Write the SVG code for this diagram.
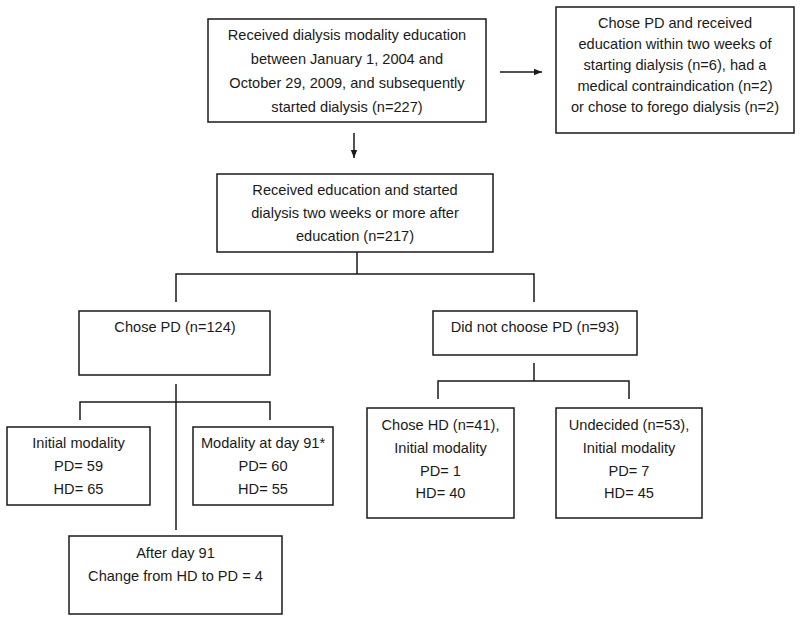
<svg xmlns="http://www.w3.org/2000/svg" width="800" height="621" viewBox="0 0 800 621">
<defs>
<style>
.box{fill:#fff;stroke:#1a1a1a;stroke-width:1.5}
.ln{fill:none;stroke:#1a1a1a;stroke-width:1.5}
text{font-family:"Liberation Sans",Arial,sans-serif;font-size:14.6px;fill:#1a1a1a;text-anchor:middle}
</style>
<marker id="ah" viewBox="0 0 10 10" refX="10" refY="5" markerWidth="8" markerHeight="8" markerUnits="userSpaceOnUse" orient="auto">
<path d="M0,1 L10,5 L0,9 Z" fill="#1a1a1a"/>
</marker>
</defs>
<rect width="800" height="621" fill="#fff"/>
<g id="connectors">
<line class="ln" x1="500" y1="72" x2="542" y2="72" marker-end="url(#ah)"/>
<line class="ln" x1="354" y1="133" x2="354" y2="158" marker-end="url(#ah)"/>
<polyline class="ln" points="357,252 357,274"/>
<polyline class="ln" points="176,302 176,274 534,274 534,302"/>
<polyline class="ln" points="176,384 176,530"/>
<polyline class="ln" points="80,420 80,402 270,402 270,420"/>
<polyline class="ln" points="534,363 534,381"/>
<polyline class="ln" points="438,399 438,381 629,381 629,399"/>
</g>
<g id="n1">
<rect class="box" x="208" y="19" width="278" height="103"/>
<text x="347" y="40">Received dialysis modality education</text>
<text x="347" y="64">between January 1, 2004 and</text>
<text x="347" y="88">October 29, 2009, and subsequently</text>
<text x="347" y="112">started dialysis (n=227)</text>
</g>
<g id="n2">
<rect class="box" x="556" y="7" width="238" height="126"/>
<text x="675" y="28">Chose PD and received</text>
<text x="675" y="49">education within two weeks of</text>
<text x="675" y="70">starting dialysis (n=6), had a</text>
<text x="675" y="91">medical contraindication (n=2)</text>
<text x="675" y="112">or chose to forego dialysis (n=2)</text>
</g>
<g id="n3">
<rect class="box" x="217" y="174" width="276" height="78"/>
<text x="355" y="195">Received education and started</text>
<text x="355" y="218">dialysis two weeks or more after</text>
<text x="355" y="241">education (n=217)</text>
</g>
<g id="n4">
<rect class="box" x="79" y="311" width="191" height="64"/>
<text x="175" y="332">Chose PD (n=124)</text>
</g>
<g id="n5">
<rect class="box" x="433" y="311" width="204" height="44"/>
<text x="535" y="332">Did not choose PD (n=93)</text>
</g>
<g id="n6">
<rect class="box" x="7" y="427" width="143" height="78"/>
<text x="78.5" y="448">Initial modality</text>
<text x="78.5" y="471">PD= 59</text>
<text x="78.5" y="494">HD= 65</text>
</g>
<g id="n7">
<rect class="box" x="193" y="427" width="140" height="78"/>
<text x="263" y="448">Modality at day 91*</text>
<text x="263" y="471">PD= 60</text>
<text x="263" y="494">HD= 55</text>
</g>
<g id="n8">
<rect class="box" x="69" y="536" width="213" height="78"/>
<text x="175.5" y="558">After day 91</text>
<text x="175.5" y="581">Change from HD to PD = 4</text>
</g>
<g id="n9">
<rect class="box" x="367" y="408" width="147" height="110"/>
<text x="440.5" y="430">Chose HD (n=41),</text>
<text x="440.5" y="453">Initial modality</text>
<text x="440.5" y="476">PD= 1</text>
<text x="440.5" y="498">HD= 40</text>
</g>
<g id="n10">
<rect class="box" x="556" y="408" width="146" height="110"/>
<text x="629" y="430">Undecided (n=53),</text>
<text x="629" y="453">Initial modality</text>
<text x="629" y="476">PD= 7</text>
<text x="629" y="498">HD= 45</text>
</g>
</svg>
